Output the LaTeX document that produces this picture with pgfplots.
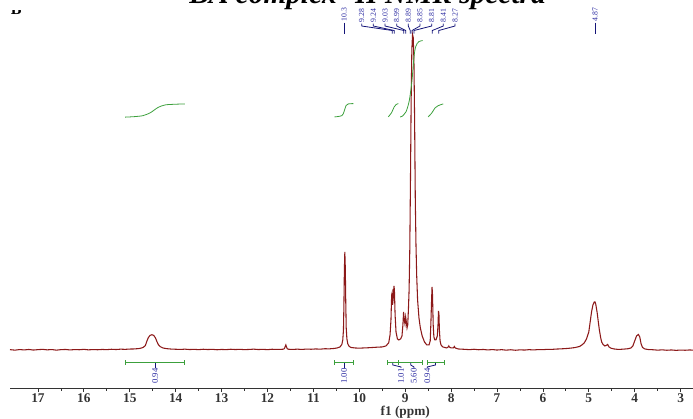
\documentclass[border=0pt]{standalone}
\usepackage{pgfplots}
\pgfplotsset{compat=1.18}
\usepackage{fontspec}
\setmainfont{Liberation Serif}
\definecolor{spec}{RGB}{140,25,25}
\definecolor{intg}{RGB}{60,160,60}
\definecolor{lab}{RGB}{40,40,160}
\definecolor{labl}{RGB}{20,20,120}
\tikzset{
  brk/.style={intg, line width=0.7pt},
  conn/.style={labl, line width=0.6pt},
  ilab/.style={lab, rotate=90, anchor=east, inner sep=0.5pt, font=\fontsize{6.5}{7}\selectfont},
  plab/.style={lab, rotate=90, anchor=west, inner sep=0.5pt, font=\fontsize{5.8}{7}\selectfont},
}
\begin{document}
\begin{tikzpicture}
\begin{axis}[
  at={(7.5pt,22.5pt)}, anchor=south west,
  scale only axis, width=512.25pt, height=291pt,
  x dir=reverse, xmin=2.73, xmax=17.61, ymin=-38, ymax=350,
  axis x line=bottom, axis y line=none,
  x axis line style={-, black!80, line width=0.7pt},
  xtick={3,4,...,17}, minor x tick num=1,
  tick align=outside, major tick length=3pt, minor tick length=2pt,
  tick style={black!80, line width=0.6pt},
  xticklabel style={font=\fontsize{10}{12}\selectfont\bfseries, text=black!80, yshift=2pt},
  /pgf/number format/assume math mode=true,
  clip=false,
]
% spectrum
\addplot[spec, line width=0.8pt] coordinates {
(17.61,0.3)(17.5,-0.2)(17.4,0.4)(17.3,0)(17.2,0.5)(17.1,-0.1)(17.0,0.3)(16.9,0.6)(16.8,0.1)(16.7,0.4)(16.6,-0.2)(16.5,0.3)(16.4,0.5)(16.3,0)(16.2,0.4)(16.1,0.2)(16.0,0.6)(15.9,0.1)(15.8,0.4)(15.7,0.2)(15.6,0.5)(15.5,0.3)(15.4,0.7)(15.3,0.4)(15.2,0.8)(15.1,0.6)(15.0,0.9)(14.9,1.0)(14.8,1.4)(14.74,2)(14.70,2.8)(14.66,4.5)(14.63,8.5)(14.60,12)(14.56,14.5)(14.52,15.2)(14.48,14.6)(14.44,12)(14.41,8.5)(14.38,5.5)(14.34,3.4)(14.28,2)(14.2,1.3)(14.1,0.9)(14.0,0.7)(13.9,0.5)(13.8,0.8)(13.7,0.4)(13.6,0.6)(13.5,0.3)(13.4,0.7)(13.3,0.4)(13.2,0.6)(13.1,0.2)(13.0,0.5)(12.9,0.3)(12.8,0.7)(12.7,0.4)(12.6,0.6)(12.5,0.3)(12.4,0.5)(12.3,0.8)(12.2,0.4)(12.1,0.6)(12.0,0.3)(11.9,0.7)(11.8,0.5)(11.7,0.6)(11.65,0.8)(11.63,1.5)(11.61,4)(11.60,5)(11.59,3.5)(11.57,1.2)(11.54,0.7)(11.45,0.5)(11.35,0.8)(11.25,0.5)(11.15,0.9)(11.05,0.7)(10.95,1.0)(10.85,0.8)(10.75,1.2)(10.65,1.1)(10.55,1.5)(10.48,2)(10.42,3)(10.38,5.5)(10.36,10)(10.345,20)(10.335,45)(10.325,80)(10.315,98)(10.305,82)(10.295,48)(10.285,22)(10.27,11)(10.25,6)(10.22,3.5)(10.18,2.5)(10.1,2)(10.0,1.8)(9.9,2.0)(9.8,2.2)(9.7,2.5)(9.6,2.8)
(9.50,3)(9.42,4)(9.36,7)(9.33,15)(9.31,30)(9.295,55)(9.285,57)(9.275,45)(9.26,52)(9.245,64)(9.235,60)(9.22,35)(9.20,18)(9.17,11)(9.14,10)(9.10,11)(9.07,14)(9.05,25)(9.035,38)(9.02,30)(9.005,26)(8.99,33)(8.975,28)(8.96,22)(8.945,25)(8.93,40)(8.915,60)(8.90,100)(8.885,170)(8.87,250)(8.855,300)(8.84,315)(8.825,312)(8.81,290)(8.795,230)(8.78,150)(8.765,105)(8.75,75)(8.73,50)(8.70,32)(8.67,22)(8.63,14)(8.58,8)(8.53,5)(8.48,5)(8.455,9)(8.44,27)(8.425,50)(8.415,63)(8.405,55)(8.39,25)(8.375,13)(8.355,10)(8.33,10)(8.30,14)(8.285,25)(8.275,39)(8.265,36)(8.255,20)(8.24,9)(8.22,5)(8.18,3)(8.10,2)(8.06,3)(8.05,4)(8.04,3)(8.00,2)(7.95,2)(7.93,3.5)(7.91,2)(7.85,1)(7.7,0.6)
(7.6,0.3)(7.5,0.7)(7.4,0.2)(7.3,0.5)(7.2,0)(7.1,0.4)(7.0,-0.1)(6.9,0.3)(6.8,-0.2)(6.7,0.2)(6.6,-0.3)(6.5,0.1)(6.4,-0.1)(6.3,0.3)(6.2,0)(6.1,0.4)(6.0,0.3)(5.9,0.6)(5.8,0.6)(5.7,0.9)(5.6,1.1)(5.5,1.4)(5.4,1.8)(5.3,2.4)(5.2,3.5)(5.15,5)(5.1,7)(5.05,11)(5.0,18)(4.97,28)(4.94,38)(4.91,45)(4.88,48)(4.865,48)(4.85,46)(4.82,38)(4.79,27)(4.77,20)(4.74,12)(4.72,8)(4.69,5.5)(4.65,4)(4.62,4.5)(4.59,5.5)(4.56,3)(4.52,1.8)(4.45,1)(4.35,0.5)(4.25,0.8)(4.15,1.2)(4.08,2)(4.04,4)(4.0,9)(3.96,14)(3.92,15.5)(3.89,13)(3.86,6)(3.83,2.5)(3.78,1)(3.7,0.4)(3.6,0.2)(3.5,-0.2)(3.4,0.1)(3.3,-0.3)(3.2,0)(3.1,-0.4)(3.0,-0.1)(2.9,-0.3)(2.8,0)(2.73,-0.2)
};
% integral curves
\addplot[intg, line width=0.6pt, smooth] coordinates {(15.10,232.5)(14.90,233)(14.71,234)(14.56,236.7)(14.47,239.5)(14.38,242.3)(14.23,244.7)(14.0,245.4)(13.80,245.7)};
\addplot[intg, line width=0.6pt, smooth] coordinates {(10.54,232.7)(10.38,234)(10.33,238.3)(10.29,244)(10.24,245.7)(10.13,246)};
\addplot[intg, line width=0.6pt, smooth] coordinates {(9.37,232.7)(9.30,236.7)(9.24,242.7)(9.20,245)(9.15,246)};
\addplot[intg, line width=0.6pt, smooth] coordinates {(9.11,232.7)(9.06,233.5)(9.02,235.5)(8.98,238)(8.95,242)(8.92,247)(8.90,252)(8.87,262)(8.85,270)(8.83,281)(8.81,292)(8.79,299)(8.77,303)(8.74,306)(8.70,308)(8.62,309)};
\addplot[intg, line width=0.6pt, smooth] coordinates {(8.50,232.7)(8.42,236.7)(8.35,241.7)(8.28,244)(8.17,245.7)};
% integral brackets
\draw[brk] (axis cs:15.10,-13) -- (axis cs:13.81,-13);
\draw[brk] (axis cs:15.10,-10.5) -- (axis cs:15.10,-15.5);
\draw[brk] (axis cs:13.81,-10.5) -- (axis cs:13.81,-15.5);
\draw[brk] (axis cs:10.54,-13) -- (axis cs:10.12,-13);
\draw[brk] (axis cs:10.54,-10.5) -- (axis cs:10.54,-15.5);
\draw[brk] (axis cs:10.12,-10.5) -- (axis cs:10.12,-15.5);
\draw[brk] (axis cs:9.39,-13) -- (axis cs:9.15,-13);
\draw[brk] (axis cs:9.39,-10.5) -- (axis cs:9.39,-15.5);
\draw[brk] (axis cs:9.15,-10.5) -- (axis cs:9.15,-15.5);
\draw[brk] (axis cs:9.15,-13) -- (axis cs:8.62,-13);
\draw[brk] (axis cs:8.62,-10.5) -- (axis cs:8.62,-15.5);
\draw[brk] (axis cs:8.52,-13) -- (axis cs:8.15,-13);
\draw[brk] (axis cs:8.52,-10.5) -- (axis cs:8.52,-15.5);
\draw[brk] (axis cs:8.15,-10.5) -- (axis cs:8.15,-15.5);
% integral labels
\draw[conn] (axis cs:14.45,-13) -- (axis cs:14.45,-18);
\node[ilab] at (axis cs:14.45,-17.5) {0.94};
\draw[conn] (axis cs:10.33,-13) -- (axis cs:10.33,-18);
\node[ilab] at (axis cs:10.33,-17.5) {1.00};
\draw[conn] (axis cs:9.27,-13) -- (axis cs:9.27,-15) -- (axis cs:9.09,-17) -- (axis cs:9.09,-18);
\node[ilab] at (axis cs:9.09,-17.5) {1.01};
\draw[conn] (axis cs:8.88,-13) -- (axis cs:8.88,-15) -- (axis cs:8.81,-17) -- (axis cs:8.81,-18);
\node[ilab] at (axis cs:8.81,-17.5) {5.60};
\draw[conn] (axis cs:8.34,-13) -- (axis cs:8.34,-15) -- (axis cs:8.52,-17) -- (axis cs:8.52,-18);
\node[ilab] at (axis cs:8.52,-17.5) {0.94};
% peak labels
\draw[conn] (axis cs:9.948,326) -- (axis cs:9.948,323.5) -- (axis cs:9.28,319) -- (axis cs:9.28,316);
\node[plab] at (axis cs:9.948,326) {9.28};
\draw[conn] (axis cs:9.695,326) -- (axis cs:9.695,323.5) -- (axis cs:9.24,319) -- (axis cs:9.24,316);
\node[plab] at (axis cs:9.695,326) {9.24};
\draw[conn] (axis cs:9.440,326) -- (axis cs:9.440,323.5) -- (axis cs:9.03,319) -- (axis cs:9.03,316);
\node[plab] at (axis cs:9.440,326) {9.03};
\draw[conn] (axis cs:9.185,326) -- (axis cs:9.185,323.5) -- (axis cs:8.99,319) -- (axis cs:8.99,316);
\node[plab] at (axis cs:9.185,326) {8.99};
\draw[conn] (axis cs:8.932,326) -- (axis cs:8.932,323.5) -- (axis cs:8.89,319) -- (axis cs:8.89,316);
\node[plab] at (axis cs:8.932,326) {8.89};
\draw[conn] (axis cs:8.678,326) -- (axis cs:8.678,323.5) -- (axis cs:8.85,319) -- (axis cs:8.85,316);
\node[plab] at (axis cs:8.678,326) {8.85};
\draw[conn] (axis cs:8.423,326) -- (axis cs:8.423,323.5) -- (axis cs:8.81,319) -- (axis cs:8.81,316);
\node[plab] at (axis cs:8.423,326) {8.81};
\draw[conn] (axis cs:8.170,326) -- (axis cs:8.170,323.5) -- (axis cs:8.41,319) -- (axis cs:8.41,316);
\node[plab] at (axis cs:8.170,326) {8.41};
\draw[conn] (axis cs:7.915,326) -- (axis cs:7.915,323.5) -- (axis cs:8.27,319) -- (axis cs:8.27,316);
\node[plab] at (axis cs:7.915,326) {8.27};
\draw[conn] (axis cs:10.33,327) -- (axis cs:10.33,316);
\node[plab] at (axis cs:10.33,327) {10.3};
\draw[conn] (axis cs:4.865,327) -- (axis cs:4.865,316);
\node[plab] at (axis cs:4.865,327) {4.87};
% axis label
\node[font=\fontsize{10}{12}\selectfont\bfseries, text=black!80] at (axis cs:9.0,-62) {f1 (ppm)};
% title
\node[anchor=base, font=\fontsize{22}{24}\selectfont\bfseries\itshape, inner sep=0pt] at (axis cs:9.82,346) {BA complex \textsuperscript{1}H NMR spectra};
\end{axis}
\begin{scope}
\clip (6pt,302.25pt) rectangle (22pt,305.25pt);
\node[anchor=base west, inner sep=0pt, font=\fontsize{12}{14}\selectfont\bfseries] at (8pt,302.25pt) {B};
\end{scope}
\pgfresetboundingbox
\path[use as bounding box] (0,0) rectangle (519.75pt,313.5pt);
\end{tikzpicture}
\end{document}
